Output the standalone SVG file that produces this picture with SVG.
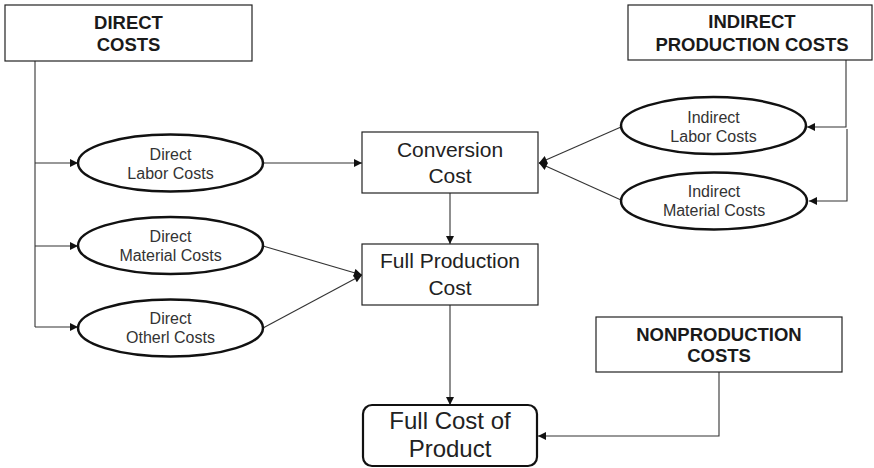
<svg xmlns="http://www.w3.org/2000/svg" width="874" height="468" viewBox="0 0 874 468">
<style>
.box{fill:#fff;stroke:#222;stroke-width:1.2}
.ell{fill:#fff;stroke:#111;stroke-width:2.5}
.rbox{fill:#fff;stroke:#111;stroke-width:2.2}
.hd{font-family:"Liberation Sans",Arial,sans-serif;font-weight:bold;font-size:18.5px;fill:#1a1a1a;text-anchor:middle}
.el{font-family:"Liberation Sans",Arial,sans-serif;font-size:16px;fill:#333;text-anchor:middle}
.bx{font-family:"Liberation Sans",Arial,sans-serif;font-size:21px;fill:#222;text-anchor:middle}
.big{font-family:"Liberation Sans",Arial,sans-serif;font-size:24px;fill:#222;text-anchor:middle}
.ln{fill:none;stroke:#333;stroke-width:1.1}
</style>
<defs>
<marker id="ah" viewBox="0 0 10 10" refX="10" refY="5" markerWidth="9" markerHeight="8" markerUnits="userSpaceOnUse" orient="auto">
<path d="M0,0 L10,5 L0,10 z" fill="#111"/>
</marker>
</defs>
<rect width="874" height="468" fill="#fff"/>
<g id="connectors">
<path class="ln" d="M35,61 V327"/>
<path class="ln" d="M35,163 H78" marker-end="url(#ah)"/>
<path class="ln" d="M35,246 H78" marker-end="url(#ah)"/>
<path class="ln" d="M35,327 H78" marker-end="url(#ah)"/>
<path class="ln" d="M263,163 H362" marker-end="url(#ah)"/>
<path class="ln" d="M263,246 L362,275" marker-end="url(#ah)"/>
<path class="ln" d="M263,328 L362,275" marker-end="url(#ah)"/>
<path class="ln" d="M621,127 L539,163" marker-end="url(#ah)"/>
<path class="ln" d="M621,200 L539,163" marker-end="url(#ah)"/>
<path class="ln" d="M846,60 V127 H807" marker-end="url(#ah)"/>
<path class="ln" d="M847,129 V201 H809" marker-end="url(#ah)"/>
<path class="ln" d="M450,193 V244" marker-end="url(#ah)"/>
<path class="ln" d="M450,305 V405" marker-end="url(#ah)"/>
<path class="ln" d="M719,372 V436 H538" marker-end="url(#ah)"/>
</g>
<g id="direct-costs">
<rect class="box" x="5" y="5" width="247" height="56"/>
<text class="hd" x="128.5" y="29">DIRECT</text>
<text class="hd" x="128.5" y="51">COSTS</text>
</g>
<g id="indirect-production-costs">
<rect class="box" x="628" y="5" width="244" height="55"/>
<text class="hd" x="752" y="28">INDIRECT</text>
<text class="hd" x="752" y="51">PRODUCTION COSTS</text>
</g>
<g id="direct-labor-costs">
<ellipse class="ell" cx="170.5" cy="163" rx="92.5" ry="28.5"/>
<text class="el" x="170.5" y="160">Direct</text>
<text class="el" x="170.5" y="179">Labor Costs</text>
</g>
<g id="direct-material-costs">
<ellipse class="ell" cx="170.5" cy="245.5" rx="92.5" ry="28.5"/>
<text class="el" x="170.5" y="242">Direct</text>
<text class="el" x="170.5" y="261">Material Costs</text>
</g>
<g id="direct-other-costs">
<ellipse class="ell" cx="170.5" cy="328" rx="92.5" ry="28.5"/>
<text class="el" x="170.5" y="324">Direct</text>
<text class="el" x="170.5" y="343">Otherl Costs</text>
</g>
<g id="indirect-labor-costs">
<ellipse class="ell" cx="713.5" cy="125.5" rx="92.5" ry="28.5"/>
<text class="el" x="713.5" y="123">Indirect</text>
<text class="el" x="713.5" y="142">Labor Costs</text>
</g>
<g id="indirect-material-costs">
<ellipse class="ell" cx="714" cy="201" rx="93" ry="28.5"/>
<text class="el" x="714" y="197">Indirect</text>
<text class="el" x="714" y="216">Material Costs</text>
</g>
<g id="conversion-cost">
<rect class="box" x="362" y="132" width="176" height="61"/>
<text class="bx" x="450" y="157">Conversion</text>
<text class="bx" x="450" y="183">Cost</text>
</g>
<g id="full-production-cost">
<rect class="box" x="362" y="244" width="176" height="61"/>
<text class="bx" x="450" y="268">Full Production</text>
<text class="bx" x="450" y="295">Cost</text>
</g>
<g id="nonproduction-costs">
<rect class="box" x="596" y="317" width="246" height="55"/>
<text class="hd" x="719" y="341">NONPRODUCTION</text>
<text class="hd" x="719" y="362">COSTS</text>
</g>
<g id="full-cost-of-product">
<rect class="rbox" x="363" y="405" width="174" height="61" rx="9"/>
<text class="big" x="450" y="429">Full Cost of</text>
<text class="big" x="450" y="457">Product</text>
</g>
</svg>
